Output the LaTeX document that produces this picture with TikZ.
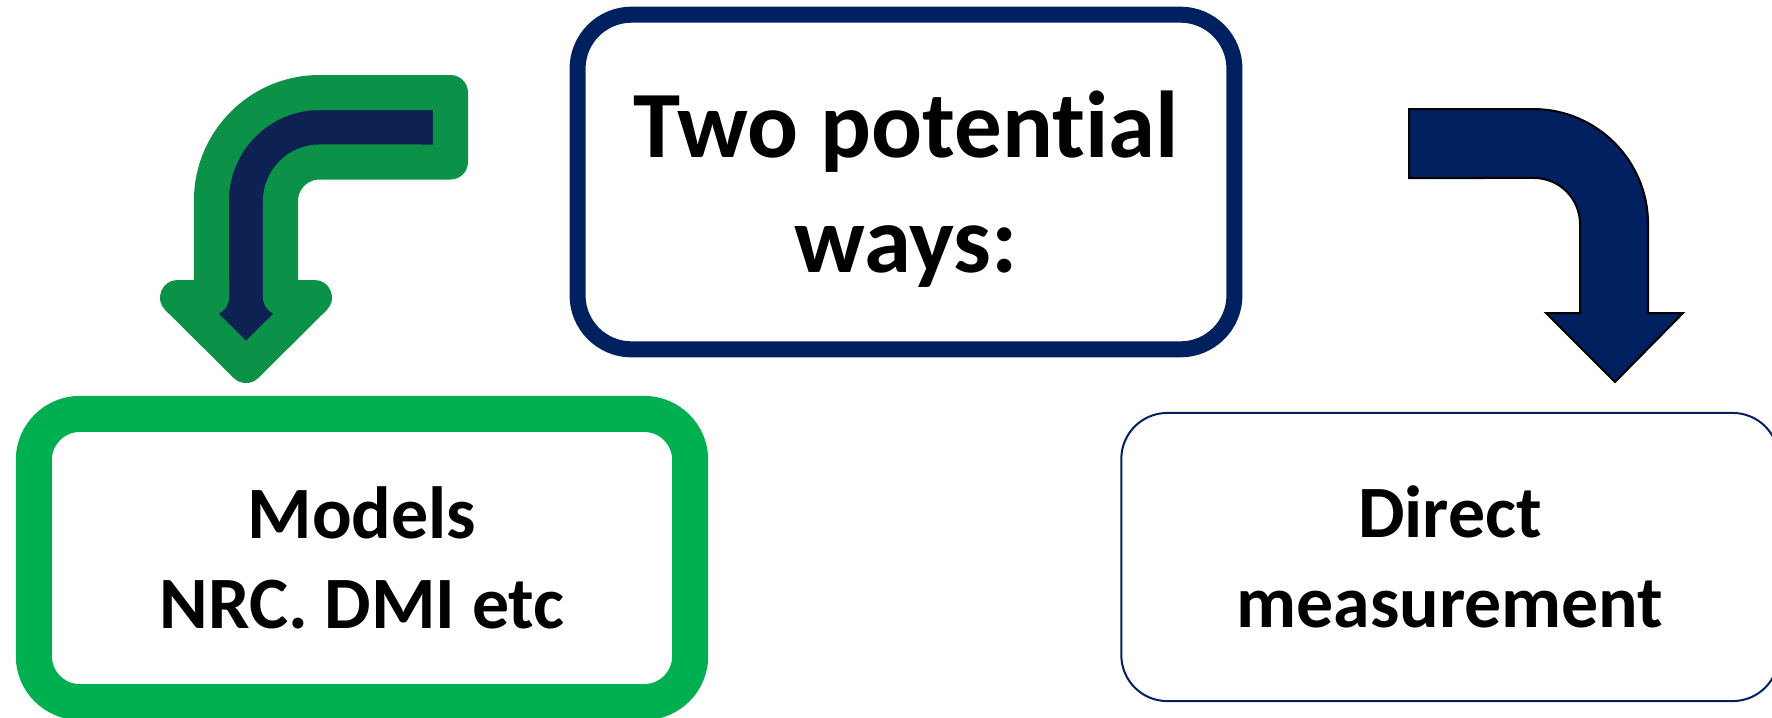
\documentclass[tikz,border=0pt]{standalone}
\usepackage{fontspec}
\setmainfont{Carlito}[Ligatures={NoCommon,NoContextual}]

\definecolor{navy}{HTML}{002060}
\definecolor{officegreen}{HTML}{00B050}
\definecolor{arrowgreen}{HTML}{0C9148}
\definecolor{arrownavy}{HTML}{0D2252}

\begin{document}
\begin{tikzpicture}[x=0.01cm, y=-0.01cm,
  box/.style={draw, rectangle, fill=white, align=center, inner sep=0pt},
  bigtext/.style={font=\fontsize{27pt}{32.7pt}\selectfont\bfseries},
  smalltext/.style={font=\fontsize{21pt}{25.6pt}\selectfont\bfseries}]
\fill[white] (0,0) rectangle (1772,717);
\useasboundingbox (0,0) rectangle (1772,717);

\node[box, bigtext, text depth=0pt, draw=navy, line width=0.16cm, rounded corners=0.54cm, minimum width=6.565cm, minimum height=3.345cm] (ways) at (906,182) {Two potential\\ ways:};
\node[box, smalltext, draw=officegreen, line width=0.36cm, rounded corners=0.46cm, minimum width=6.56cm, minimum height=2.88cm] (models) at (362,558) {Models\\ NRC. DMI etc};
\node[box, smalltext, draw=navy, line width=0.02cm, rounded corners=0.46cm, minimum width=6.57cm, minimum height=2.88cm] (direct) at (1450,557) {Direct\\ measurement};

% bent arrow to the left, outlined in green
\filldraw[fill=arrownavy, draw=arrowgreen, line width=0.35cm, line join=round]
  (450.5,92.5) -- (319.5,92.5) arc[start angle=90, end angle=180, radius=1.08cm]
  -- (211.5,297.5) -- (177.5,297.5) -- (246,365.5) -- (314.5,297.5) -- (280.5,297.5)
  -- (280.5,201) arc[start angle=180, end angle=90, radius=0.39cm]
  -- (450.5,162) -- cycle;

% bent arrow to the right
\filldraw[fill=navy, draw=black, line width=0.02cm]
  (1409,109) -- (1533,109) arc[start angle=90, end angle=0, radius=1.15cm]
  -- (1648,313) -- (1683,313) -- (1615,382) -- (1546,313) -- (1580,313)
  -- (1580,224) arc[start angle=0, end angle=90, radius=0.46cm]
  -- (1409,178) -- cycle;
\end{tikzpicture}
\end{document}
